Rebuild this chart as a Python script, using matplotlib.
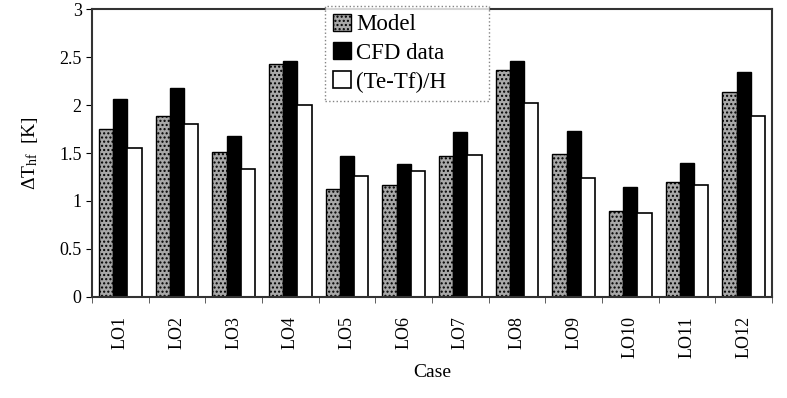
import matplotlib
matplotlib.use("Agg")
import matplotlib.pyplot as plt
import numpy as np

cases = ["LO1", "LO2", "LO3", "LO4", "LO5", "LO6", "LO7", "LO8", "LO9", "LO10", "LO11", "LO12"]
model = [1.75, 1.89, 1.51, 2.43, 1.12, 1.17, 1.47, 2.37, 1.49, 0.90, 1.20, 2.14]
cfd = [2.06, 2.18, 1.68, 2.46, 1.47, 1.39, 1.72, 2.46, 1.73, 1.15, 1.40, 2.34]
te_tf_h = [1.55, 1.80, 1.33, 2.00, 1.26, 1.31, 1.48, 2.02, 1.24, 0.88, 1.17, 1.89]

plt.rcParams['font.family'] = ['Liberation Serif', 'DejaVu Serif']
plt.rcParams['mathtext.fontset'] = 'custom'
plt.rcParams['mathtext.rm'] = 'Liberation Serif'
plt.rcParams['mathtext.it'] = 'Liberation Serif:italic'
plt.rcParams['hatch.color'] = '#555555'

fig = plt.figure(figsize=(7.87, 3.98), dpi=100)
ax = fig.add_axes([0.117, 0.254, 0.864, 0.723])

x = np.arange(len(cases))
w = 0.25
ax.bar(x - w, model, w, color='#a8a8a8', edgecolor='black', linewidth=1.0, hatch='....', label='Model')
ax.bar(x, cfd, w, color='black', edgecolor='black', linewidth=1.0, label='CFD data')
ax.bar(x + w, te_tf_h, w, color='white', edgecolor='black', linewidth=1.2, label='(Te-Tf)/H')

ax.set_xlim(-0.5, len(cases) - 0.5)
ax.set_ylim(0, 3)
ax.set_yticks([0, 0.5, 1, 1.5, 2, 2.5, 3])
ax.set_yticklabels(['0', '0.5', '1', '1.5', '2', '2.5', '3'])
ax.set_xticks(x)
ax.set_xticklabels(cases, rotation=90)
ax.set_xticks(np.arange(-0.5, len(cases), 1), minor=True)
ax.tick_params(axis='x', which='major', length=0, pad=14, labelsize=13)
ax.tick_params(axis='x', which='minor', length=4, direction='out', color='#444444')
ax.tick_params(axis='y', length=4, direction='out', labelsize=13)

for s in ax.spines.values():
    s.set_color('#333333')
    s.set_linewidth(1.5)

ax.set_ylabel(r'$\Delta$T$_{\rm hf}$  [K]', fontsize=14, labelpad=14)
ax.set_xlabel('Case', fontsize=14, labelpad=4)

leg = ax.legend(loc='upper left', bbox_to_anchor=(0.343, 0.60, 0.24, 0.412), mode='expand',
                fontsize=16.5, frameon=True,
                fancybox=False, edgecolor='#666666', handlelength=0.75, handleheight=0.75,
                handletextpad=0.25, borderpad=0.35, labelspacing=0.32, borderaxespad=0)
leg.get_frame().set_linewidth(1.0)
leg.get_frame().set_linestyle(':')

fig.savefig('out.png', dpi=100)
